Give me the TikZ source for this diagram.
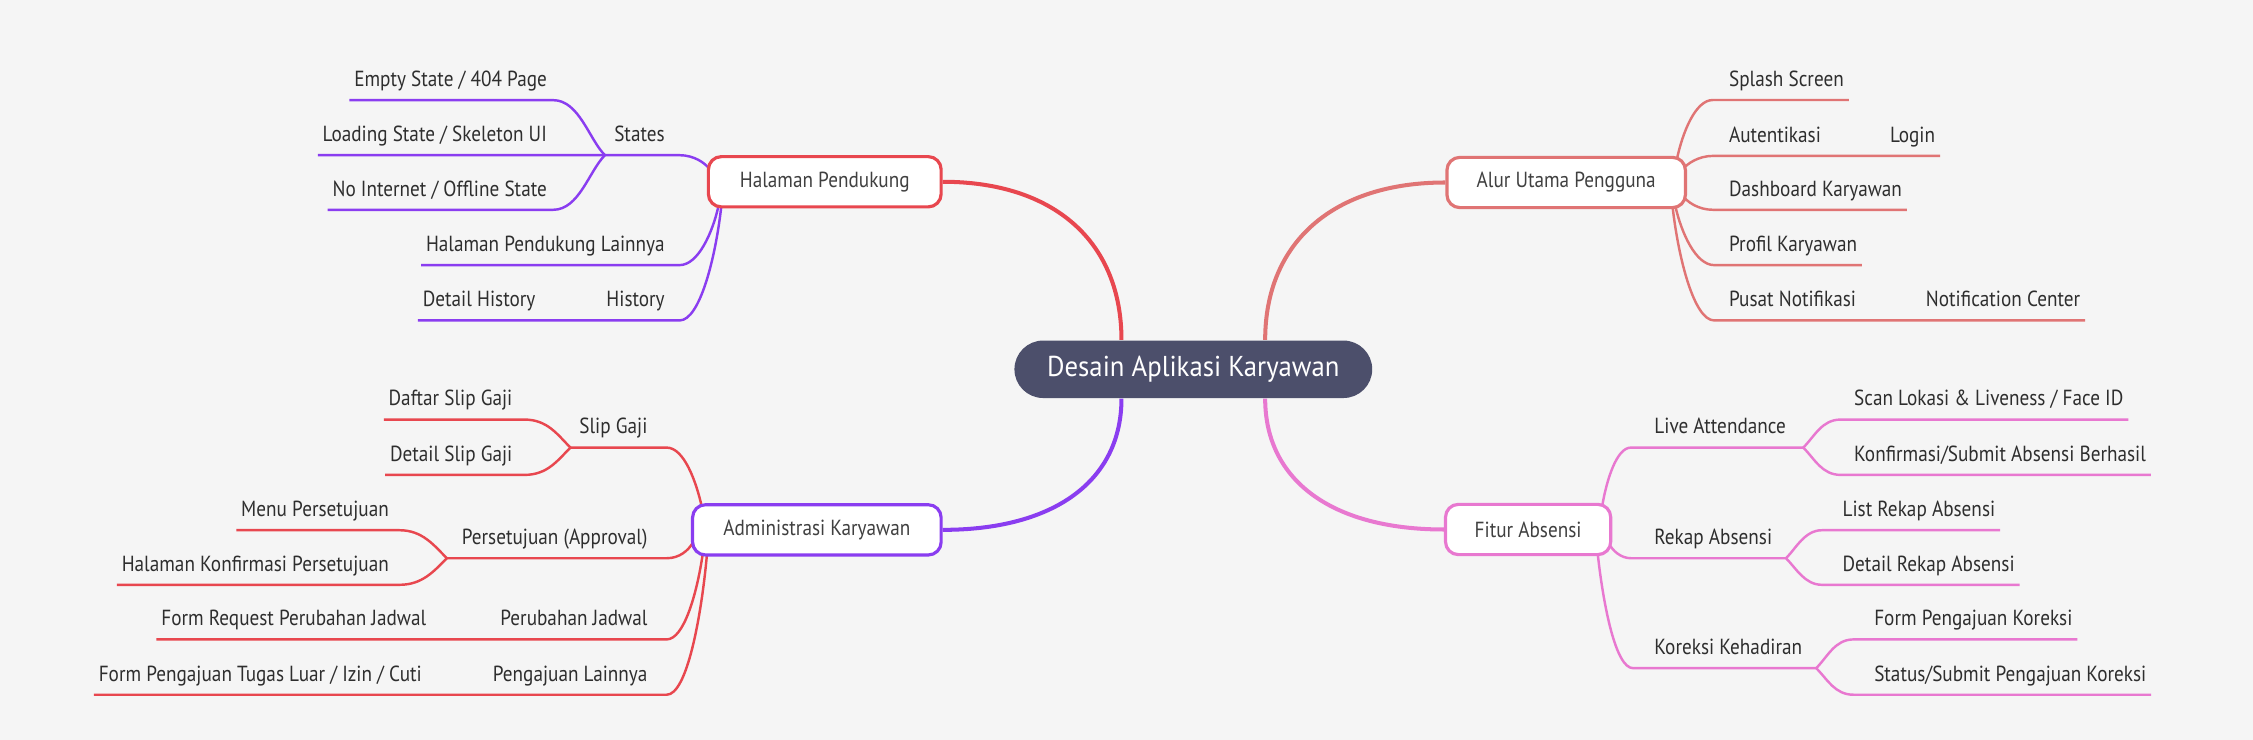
\documentclass[tikz,border=0pt]{standalone}
\usepackage{fontspec}
\setmainfont{PT Sans}[FakeStretch=0.88]
\newfontfamily\rootfont{PT Sans}[FakeStretch=0.93]
\usetikzlibrary{calc}
\pgfdeclarelayer{back}
\pgfsetlayers{back,main}
\definecolor{bgc}{HTML}{F5F5F5}
\definecolor{cred}{HTML}{E8474F}
\definecolor{csal}{HTML}{E07474}
\definecolor{cpur}{HTML}{8A3DF0}
\definecolor{cpink}{HTML}{E878D0}
\definecolor{cdark}{HTML}{4C4F6B}
\definecolor{ctxt}{HTML}{2E2E2E}
\definecolor{cmtxt}{HTML}{404040}
\newcommand\LT[4]{\node[lbl,anchor=base east] (#1) at (#2,#3-9.5) {#4};}
\newcommand\RT[4]{\node[lbl,anchor=base west] (#1) at (#2,#3-9.5) {#4};}
\begin{document}
\begin{tikzpicture}[x=0.5pt,y=-0.5pt,
  lbl/.style={inner sep=0pt, text=ctxt, font=\fontsize{7.6}{8}\selectfont},
  mnode/.style={draw, line width=1.1pt, fill=white, rounded corners=4.5pt, inner sep=0pt,
    minimum height=17.5pt, text=cmtxt, font=\fontsize{7.6}{8}\selectfont},
  root/.style={fill=cdark, rounded corners=10pt, inner sep=0pt, minimum width=124.5pt,
    minimum height=20pt, text=white, font=\rootfont\fontsize{10}{12}\selectfont},
  mconn/.style={line width=1.4pt},
  sl/.style={line width=0.85pt}]
\useasboundingbox (0,0) rectangle (1568,515);

% main nodes
\node[root] (c) at (830.5,257) {Desain Aplikasi Karyawan};
\node[mnode, draw=cred, minimum width=81pt] (hp) at (574,126.5) {Halaman Pendukung};
\node[mnode, draw=csal, minimum width=83pt] (au) at (1090,127) {Alur Utama Pengguna};
\node[mnode, draw=cpur, minimum width=86.5pt] (ak) at (568.5,368.75) {Administrasi Karyawan};
\node[mnode, draw=cpink, minimum width=57.5pt] (fa) at (1063.5,368.5) {Fitur Absensi};

% Halaman Pendukung children
\LT{st}{463}{108}{States}
\LT{es}{381}{69.7}{Empty State / 404 Page}
\LT{ls}{381}{108}{Loading State / Skeleton UI}
\LT{ni}{381}{146}{No Internet / Offline State}
\LT{hl}{463}{184.5}{Halaman Pendukung Lainnya}
\LT{hi}{463}{223}{History}
\LT{dh}{373}{223}{Detail History}
\coordinate (jst) at (421,108);
\coordinate (pst) at (494,118);
\coordinate (phl) at (500,143.5);
\coordinate (phi) at (502,143.5);

% Administrasi children
\LT{sg}{451}{311.5}{Slip Gaji}
\LT{ds}{357}{292}{Daftar Slip Gaji}
\LT{dt}{357}{330.5}{Detail Slip Gaji}
\LT{ps}{451}{388.5}{Persetujuan (Approval)}
\LT{mp}{271}{369}{Menu Persetujuan}
\LT{hk}{271}{407}{Halaman Konfirmasi Persetujuan}
\LT{pj}{451}{445}{Perubahan Jadwal}
\LT{fr}{297}{445}{Form Request Perubahan Jadwal}
\LT{pl}{451}{483.5}{Pengajuan Lainnya}
\LT{fp}{294}{483.5}{Form Pengajuan Tugas Luar / Izin / Cuti}
\coordinate (jsg) at (397,311.5);
\coordinate (jps) at (311,388.5);
\coordinate (psg) at (488.5,353);
\coordinate (pps) at (482,378);
\coordinate (ppj) at (489,386);
\coordinate (ppl) at (492,386);

% Alur children
\RT{ss}{1203}{69.6}{Splash Screen}
\RT{at}{1203}{108.5}{Autentikasi}
\RT{lg}{1315}{108.5}{Login}
\RT{db}{1203}{146}{Dashboard Karyawan}
\RT{pk}{1203}{184.5}{Profil Karyawan}
\RT{pn}{1203}{223}{Pusat Notifikasi}
\RT{nc}{1340}{223}{Notification Center}
\coordinate (pss) at (1167,111);
\coordinate (pat) at (1171,118);
\coordinate (pdb) at (1171,136);
\coordinate (ppk) at (1166,143.5);
\coordinate (ppn) at (1164,143.5);

% Fitur children
\RT{la}{1151}{311.5}{Live Attendance}
\RT{sc}{1290}{292}{Scan Lokasi \& Liveness / Face ID}
\RT{kf}{1290}{330.5}{Konfirmasi/Submit Absensi Berhasil}
\RT{ra}{1151}{388.5}{Rekap Absensi}
\RT{lr}{1282}{369}{List Rekap Absensi}
\RT{dr}{1282}{407}{Detail Rekap Absensi}
\RT{kk}{1151}{465}{Koreksi Kehadiran}
\RT{fk}{1304}{445}{Form Pengajuan Koreksi}
\RT{sk}{1304}{483.5}{Status/Submit Pengajuan Koreksi}
\coordinate (pla) at (1115,352.5);
\coordinate (pra) at (1120,378.5);
\coordinate (pkk) at (1112,386);
\coordinate (jla) at (1255,311.5);
\coordinate (jra) at (1243,388.5);
\coordinate (jkk) at (1264,465);

\begin{pgfonlayer}{back}
\fill[bgc] (0,0) rectangle (1568,515);
% main connectors
\draw[mconn, cred] (hp.east) .. controls +(78,0) and +(0,-68) .. ($(c.north)+(-50,0)$);
\draw[mconn, csal] ($(c.north)+(50,0)$) .. controls +(0,-68) and +(-78,0) .. (au.west);
\draw[mconn, cpur] (ak.east) .. controls +(78,0) and +(0,57) .. ($(c.south)+(-50,0)$);
\draw[mconn, cpink] ($(c.south)+(50,0)$) .. controls +(0,57) and +(-78,0) .. (fa.west);

% Halaman (purple)
\draw[sl,cpur] ($(ls.base west)+(-3,9.5)$) -- ($(st.base east)+(10,9.5)$) .. controls +(10,0) and +(-3,-4.5) .. (pst);
\draw[sl,cpur] ($(es.base west)+(-3,9.5)$) -- ($(es.base east)+(4,9.5)$) .. controls +(18,0) and +(-11,-11) .. (jst);
\draw[sl,cpur] ($(ni.base west)+(-3,9.5)$) -- ($(ni.base east)+(4,9.5)$) .. controls +(18,0) and +(-11,11) .. (jst);
\draw[sl,cpur] ($(hl.base west)+(-3,9.5)$) -- ($(hl.base east)+(10,9.5)$) .. controls +(13,0) and +(-4,18) .. (phl);
\draw[sl,cpur] ($(dh.base west)+(-3,9.5)$) -- ($(hi.base east)+(10,9.5)$) .. controls +(14,0) and +(-4,36) .. (phi);

% Administrasi (red)
\draw[sl,cred] (jsg) -- ($(sg.base east)+(13,9.5)$) .. controls +(12,0) and +(-4,-18) .. (psg);
\draw[sl,cred] ($(ds.base west)+(-3,9.5)$) -- ($(ds.base east)+(8,9.5)$) .. controls +(16,0) and +(-9,-9) .. (jsg);
\draw[sl,cred] ($(dt.base west)+(-3,9.5)$) -- ($(dt.base east)+(8,9.5)$) .. controls +(16,0) and +(-9,9) .. (jsg);
\draw[sl,cred] (jps) -- ($(ps.base east)+(13,9.5)$) .. controls +(9,0) and +(-3,5) .. (pps);
\draw[sl,cred] ($(mp.base west)+(-3,9.5)$) -- ($(mp.base east)+(7,9.5)$) .. controls +(16,0) and +(-9,-9) .. (jps);
\draw[sl,cred] ($(hk.base west)+(-3,9.5)$) -- ($(hk.base east)+(7,9.5)$) .. controls +(16,0) and +(-9,9) .. (jps);
\draw[sl,cred] ($(fr.base west)+(-3,9.5)$) -- ($(pj.base east)+(13,9.5)$) .. controls +(12,0) and +(-4,27) .. (ppj);
\draw[sl,cred] ($(fp.base west)+(-3,9.5)$) -- ($(pl.base east)+(13,9.5)$) .. controls +(14,0) and +(-4,44) .. (ppl);

% Alur (salmon)
\draw[sl,csal] (pss) .. controls +(4,-19) and +(-12,0) .. ($(ss.base west)+(-11,9.5)$) -- ($(ss.base east)+(3,9.5)$);
\draw[sl,csal] (pat) .. controls +(3,-4) and +(-10,0) .. ($(at.base west)+(-11,9.5)$) -- ($(lg.base east)+(3,9.5)$);
\draw[sl,csal] (pdb) .. controls +(3,4.5) and +(-10,0) .. ($(db.base west)+(-11,9.5)$) -- ($(db.base east)+(3,9.5)$);
\draw[sl,csal] (ppk) .. controls +(4,18) and +(-13,0) .. ($(pk.base west)+(-10,9.5)$) -- ($(pk.base east)+(3,9.5)$);
\draw[sl,csal] (ppn) .. controls +(4,36) and +(-14,0) .. ($(pn.base west)+(-10,9.5)$) -- ($(nc.base east)+(3,9.5)$);

% Fitur (pink)
\draw[sl,cpink] (pla) .. controls +(3,-18) and +(-10,0) .. ($(la.base west)+(-16,9.5)$) -- (jla);
\draw[sl,cpink] (jla) .. controls +(8,-8) and +(-13,0) .. ($(sc.base west)+(-9,9.5)$) -- ($(sc.base east)+(3,9.5)$);
\draw[sl,cpink] (jla) .. controls +(8,8) and +(-13,0) .. ($(kf.base west)+(-9,9.5)$) -- ($(kf.base east)+(3,9.5)$);
\draw[sl,cpink] (pra) .. controls +(2,4.5) and +(-7,0) .. ($(ra.base west)+(-16,9.5)$) -- (jra);
\draw[sl,cpink] (jra) .. controls +(7,-7) and +(-12,0) .. ($(lr.base west)+(-14,9.5)$) -- ($(lr.base east)+(3,9.5)$);
\draw[sl,cpink] (jra) .. controls +(7,7) and +(-12,0) .. ($(dr.base west)+(-14,9.5)$) -- ($(dr.base east)+(3,9.5)$);
\draw[sl,cpink] (pkk) .. controls +(4,36) and +(-12,0) .. ($(kk.base west)+(-14.5,9.5)$) -- (jkk);
\draw[sl,cpink] (jkk) .. controls +(8,-8) and +(-13,0) .. ($(fk.base west)+(-14,9.5)$) -- ($(fk.base east)+(3,9.5)$);
\draw[sl,cpink] (jkk) .. controls +(8,8) and +(-13,0) .. ($(sk.base west)+(-14,9.5)$) -- ($(sk.base east)+(3,9.5)$);
\end{pgfonlayer}
\end{tikzpicture}
\end{document}
